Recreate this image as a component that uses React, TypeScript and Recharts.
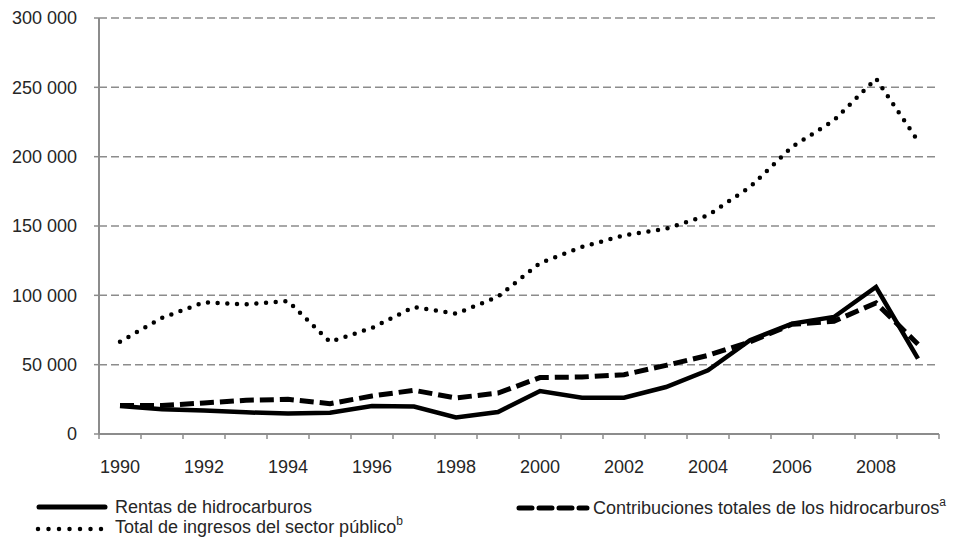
import { LineChart, Line, XAxis, YAxis, CartesianGrid } from 'recharts'

const years = [1990, 1991, 1992, 1993, 1994, 1995, 1996, 1997, 1998, 1999, 2000, 2001, 2002, 2003, 2004, 2005, 2006, 2007, 2008, 2009]
const rentas = [20200, 17800, 17000, 15600, 14700, 15400, 20200, 19800, 12000, 15900, 31000, 26200, 26200, 33900, 45900, 67600, 79600, 84400, 106000, 54400]
const contribuciones = [20500, 20500, 22400, 24300, 25000, 21900, 27400, 31500, 26000, 29500, 40700, 41100, 42800, 49500, 56700, 66500, 79100, 81300, 94500, 64700]
const totalIngresos = [66600, 83700, 95000, 93500, 95900, 66400, 76500, 91600, 86800, 99000, 123300, 134900, 143300, 148100, 157700, 178100, 207000, 226200, 256300, 211300]
const yTicks = [0, 50000, 100000, 150000, 200000, 250000, 300000]
const yearLabels = [1990, 1992, 1994, 1996, 1998, 2000, 2002, 2004, 2006, 2008]
// tick marks sit between the years, like the original
const yearBounds = [...years.map((y) => y - 0.5), years[years.length - 1] + 0.5]

const data = years.map((year, i) => ({
    year,
    rentas: rentas[i],
    contribuciones: contribuciones[i],
    total: totalIngresos[i]
}))

const AXIS = '#8c8c8c'
const FONT = 'Arial, "Liberation Sans", sans-serif'

const fmt = (v: number) => (v === 0 ? '0' : `${Math.floor(v / 1000)} ${String(v % 1000).padStart(3, '0')}`)

export default function App() {
    return (
        <div style={{ position: 'absolute', left: 0, top: 0, width: 960, height: 538, background: '#fff', fontFamily: FONT }}>
            <LineChart width={960} height={538} data={data} margin={{ top: 18, right: 21, bottom: 0, left: 0 }}>
                <CartesianGrid vertical={false} stroke={AXIS} strokeWidth={1.5} strokeDasharray="8 4" />
                <XAxis
                    xAxisId="bounds"
                    dataKey="year"
                    type="number"
                    domain={[years[0] - 0.5, years[years.length - 1] + 0.5]}
                    ticks={yearBounds}
                    interval={0}
                    tickFormatter={() => ''}
                    height={1}
                    tickSize={5}
                    stroke={AXIS}
                    strokeWidth={2}
                    tickLine={{ stroke: AXIS, strokeWidth: 1.5 }}
                />
                <XAxis
                    xAxisId="labels"
                    dataKey="year"
                    type="number"
                    domain={[years[0] - 0.5, years[years.length - 1] + 0.5]}
                    ticks={yearLabels}
                    interval={0}
                    axisLine={false}
                    tickLine={false}
                    tickSize={6}
                    tickMargin={19}
                    height={103}
                    tick={{ fill: '#262626', fontSize: 18, fontFamily: FONT }}
                />
                <YAxis
                    width={99}
                    domain={[0, 300000]}
                    ticks={yTicks}
                    interval={0}
                    tickFormatter={fmt}
                    tickSize={5}
                    tickMargin={17}
                    stroke={AXIS}
                    strokeWidth={2}
                    tickLine={{ stroke: AXIS, strokeWidth: 1.5 }}
                    tick={{ fill: '#262626', fontSize: 18, fontFamily: FONT }}
                />
                <Line xAxisId="bounds" dataKey="total" stroke="#000" strokeWidth={4.5} strokeDasharray="0 9.7" strokeLinecap="round" dot={false} isAnimationActive={false} />
                <Line xAxisId="bounds" dataKey="contribuciones" stroke="#000" strokeWidth={5} strokeDasharray="14 6" dot={false} isAnimationActive={false} />
                <Line xAxisId="bounds" dataKey="rentas" stroke="#000" strokeWidth={4.5} dot={false} isAnimationActive={false} />
            </LineChart>
            <svg width={960} height={538} style={{ position: 'absolute', left: 0, top: 0, pointerEvents: 'none' }}>
                <g fontFamily={FONT} fontSize={18} fill="#262626">
                    <line x1={39} x2={105} y1={507} y2={507} stroke="#000" strokeWidth={5} strokeLinecap="round" />
                    <text x={115} y={513}>Rentas de hidrocarburos</text>
                    <line x1={519} x2={587} y1={508} y2={508} stroke="#000" strokeWidth={5} strokeDasharray="13 7" strokeLinecap="round" />
                    <text x={593} y={514}>
                        Contribuciones totales de los hidrocarburos<tspan fontSize={12} dy={-8}>a</tspan>
                    </text>
                    <line x1={38} x2={106} y1={529} y2={529} stroke="#000" strokeWidth={4.5} strokeDasharray="0 10.5" strokeLinecap="round" />
                    <text x={115} y={533}>
                        Total de ingresos del sector público<tspan fontSize={12} dy={-8}>b</tspan>
                    </text>
                </g>
            </svg>
        </div>
    )
}
